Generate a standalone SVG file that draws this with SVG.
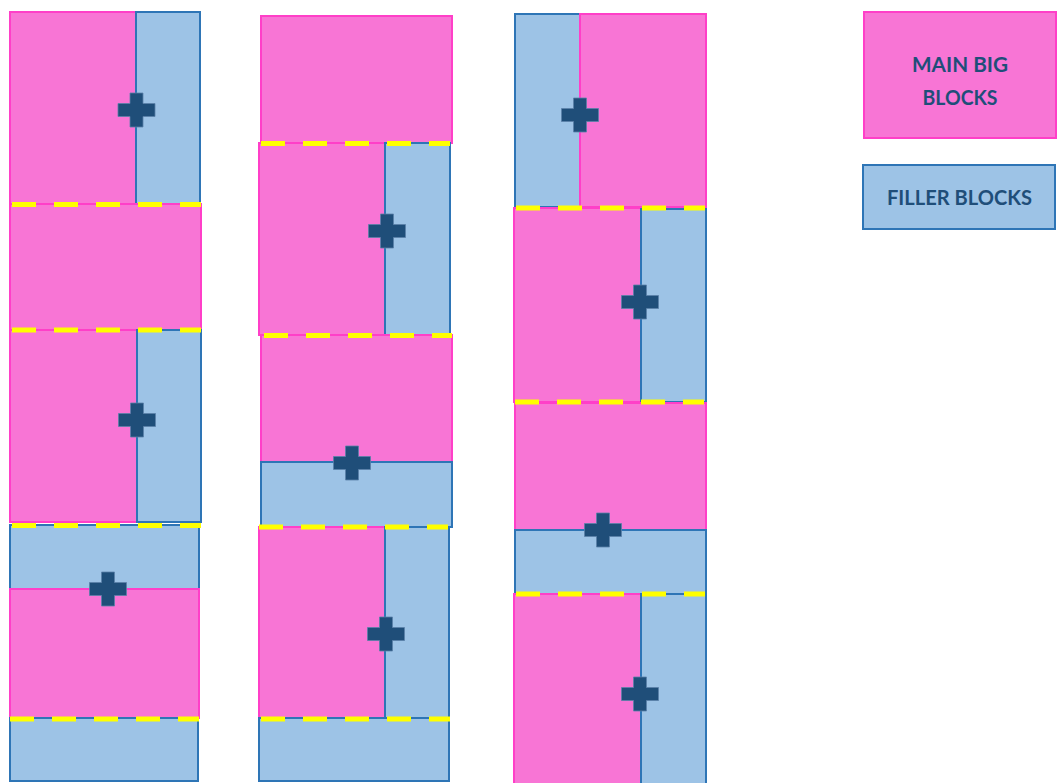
<svg xmlns="http://www.w3.org/2000/svg" xmlns:xlink="http://www.w3.org/1999/xlink" width="1058" height="783" viewBox="0 0 1058 783">
<style>
.main{fill:#f875d5;stroke:#ff3fc8;stroke-width:2}
.fill{fill:#9dc3e6;stroke:#2e75b6;stroke-width:2}
.seam{stroke:#ffff00;stroke-width:5;stroke-dasharray:24 18;fill:none}
.plus{fill:#1f4e79;stroke:#5b80a8;stroke-width:0.8}
.lbl{font-family:Lato,"Liberation Sans",Arial,sans-serif;font-weight:bold;font-size:21px;fill:#1f4e79;text-anchor:middle}
</style>
<defs>
<path id="plus" d="M-6.5,-17 H6.5 V-6.5 H18.5 V6.5 H6.5 V17 H-6.5 V6.5 H-18.5 V-6.5 H-6.5 Z"/>
</defs>
<rect width="1058" height="783" fill="#ffffff"/>

<!-- Column 1 -->
<g id="c1-main-1"><rect class="main" x="10" y="12" width="126" height="192"/></g>
<g id="c1-fill-1"><rect class="fill" x="136" y="12" width="64" height="192"/></g>
<g id="c1-main-2"><rect class="main" x="10" y="204" width="191" height="126"/></g>
<g id="c1-main-3"><rect class="main" x="10" y="330" width="127" height="192"/></g>
<g id="c1-fill-3"><rect class="fill" x="137" y="330" width="64" height="192"/></g>
<g id="c1-fill-4"><rect class="fill" x="10" y="525" width="189" height="64"/></g>
<g id="c1-main-4"><rect class="main" x="10" y="589" width="189" height="129"/></g>
<g id="c1-fill-5"><rect class="fill" x="10" y="718" width="188" height="63"/></g>

<!-- Column 2 -->
<g id="c2-main-1"><rect class="main" x="261" y="16" width="191" height="127"/></g>
<g id="c2-main-2"><rect class="main" x="259" y="143" width="126" height="192"/></g>
<g id="c2-fill-2"><rect class="fill" x="385" y="143" width="65" height="192"/></g>
<g id="c2-main-3"><rect class="main" x="261" y="335" width="191" height="127"/></g>
<g id="c2-fill-3"><rect class="fill" x="261" y="462" width="191" height="65"/></g>
<g id="c2-main-4"><rect class="main" x="259" y="527" width="126" height="191"/></g>
<g id="c2-fill-4"><rect class="fill" x="385" y="527" width="64" height="191"/></g>
<g id="c2-fill-5"><rect class="fill" x="259" y="718" width="190" height="63"/></g>

<!-- Column 3 -->
<g id="c3-fill-1"><rect class="fill" x="515" y="14" width="65" height="193"/></g>
<g id="c3-main-1"><rect class="main" x="580" y="14" width="126" height="193"/></g>
<g id="c3-main-2"><rect class="main" x="514" y="208" width="127" height="194"/></g>
<g id="c3-fill-2"><rect class="fill" x="641" y="209" width="65" height="193"/></g>
<g id="c3-main-3"><rect class="main" x="515" y="403" width="191" height="127"/></g>
<g id="c3-fill-3"><rect class="fill" x="515" y="530" width="191" height="64"/></g>
<g id="c3-main-4"><rect class="main" x="514" y="594" width="127" height="192"/></g>
<g id="c3-fill-4"><rect class="fill" x="641" y="594" width="65" height="192"/></g>

<!-- Legend -->
<g id="legend-main">
<rect class="main" x="864" y="12" width="192" height="126"/>
<text class="lbl" x="960" y="72" textLength="96" lengthAdjust="spacingAndGlyphs">MAIN BIG</text>
<text class="lbl" x="960" y="105" textLength="75" lengthAdjust="spacingAndGlyphs">BLOCKS</text>
</g>
<g id="legend-fill">
<rect class="fill" x="863" y="165" width="192" height="64"/>
<text class="lbl" x="959.5" y="205" textLength="145" lengthAdjust="spacingAndGlyphs">FILLER BLOCKS</text>
</g>

<!-- Connectors: dashed seams and joints -->
<g id="connectors">
<line class="seam" x1="12" y1="204.5" x2="201" y2="204.5"/>
<line class="seam" x1="12" y1="330" x2="201" y2="330"/>
<line class="seam" x1="12" y1="525.5" x2="201" y2="525.5"/>
<line class="seam" x1="10" y1="719" x2="199" y2="719"/>

<line class="seam" x1="261" y1="143.5" x2="450" y2="143.5"/>
<line class="seam" x1="264" y1="335.5" x2="452" y2="335.5"/>
<line class="seam" x1="259" y1="527" x2="448" y2="527"/>
<line class="seam" x1="261" y1="719" x2="450" y2="719"/>

<line class="seam" x1="516" y1="208" x2="705" y2="208"/>
<line class="seam" x1="515" y1="402" x2="704" y2="402"/>
<line class="seam" x1="516" y1="594" x2="705" y2="594"/>

<use href="#plus" xlink:href="#plus" class="plus" x="136.5" y="110"/>
<use href="#plus" xlink:href="#plus" class="plus" x="137" y="420"/>
<use href="#plus" xlink:href="#plus" class="plus" x="108" y="589"/>
<use href="#plus" xlink:href="#plus" class="plus" x="387" y="231"/>
<use href="#plus" xlink:href="#plus" class="plus" x="352" y="463"/>
<use href="#plus" xlink:href="#plus" class="plus" x="386" y="634"/>
<use href="#plus" xlink:href="#plus" class="plus" x="580" y="115"/>
<use href="#plus" xlink:href="#plus" class="plus" x="640" y="302"/>
<use href="#plus" xlink:href="#plus" class="plus" x="603" y="530"/>
<use href="#plus" xlink:href="#plus" class="plus" x="640" y="694"/>
</g>
</svg>
